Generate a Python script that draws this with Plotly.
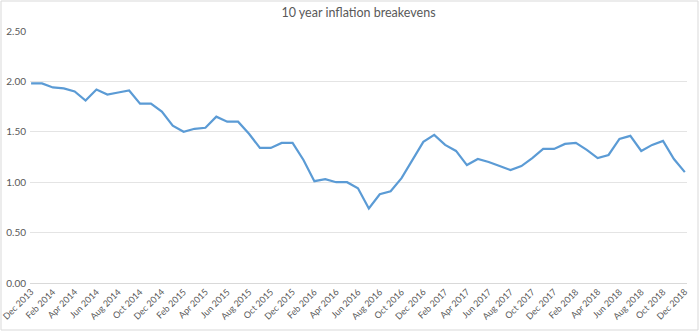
import plotly.graph_objects as go

# Monthly 10-year breakeven inflation, Dec 2013 - Dec 2018
months = [
    "Dec 2013", "Jan 2014", "Feb 2014", "Mar 2014", "Apr 2014", "May 2014", "Jun 2014",
    "Jul 2014", "Aug 2014", "Sep 2014", "Oct 2014", "Nov 2014", "Dec 2014",
    "Jan 2015", "Feb 2015", "Mar 2015", "Apr 2015", "May 2015", "Jun 2015",
    "Jul 2015", "Aug 2015", "Sep 2015", "Oct 2015", "Nov 2015", "Dec 2015",
    "Jan 2016", "Feb 2016", "Mar 2016", "Apr 2016", "May 2016", "Jun 2016",
    "Jul 2016", "Aug 2016", "Sep 2016", "Oct 2016", "Nov 2016", "Dec 2016",
    "Jan 2017", "Feb 2017", "Mar 2017", "Apr 2017", "May 2017", "Jun 2017",
    "Jul 2017", "Aug 2017", "Sep 2017", "Oct 2017", "Nov 2017", "Dec 2017",
    "Jan 2018", "Feb 2018", "Mar 2018", "Apr 2018", "May 2018", "Jun 2018",
    "Jul 2018", "Aug 2018", "Sep 2018", "Oct 2018", "Nov 2018", "Dec 2018",
]
breakevens = [
    1.98, 1.98, 1.94, 1.93, 1.90, 1.81, 1.92, 1.87, 1.89, 1.91, 1.78, 1.78, 1.70,
    1.56, 1.50, 1.53, 1.54, 1.65, 1.60, 1.60, 1.48, 1.34, 1.34, 1.39, 1.39,
    1.22, 1.01, 1.03, 1.00, 1.00, 0.94, 0.74, 0.88, 0.91, 1.04, 1.22, 1.40,
    1.47, 1.37, 1.31, 1.17, 1.23, 1.20, 1.16, 1.12, 1.16, 1.24, 1.33, 1.33,
    1.38, 1.39, 1.32, 1.24, 1.27, 1.43, 1.46, 1.31, 1.37, 1.41, 1.23, 1.10,
]
y_ticks = [0.0, 0.5, 1.0, 1.5, 2.0, 2.5]
title = "10 year inflation breakevens"

x_idx = list(range(len(months)))
label_idx = x_idx[::2]
label_text = [months[i] for i in label_idx]

W, H = 700, 331
L, R, T, B = 30, 13, 31, 48

fig = go.Figure()
fig.add_trace(go.Scatter(
    x=x_idx, y=breakevens, mode="lines",
    line=dict(color="#5B9BD5", width=2.2),
    hoverinfo="skip", showlegend=False,
))

font_family = "Lato, 'Open Sans', sans-serif"
fig.update_layout(
    width=W, height=H,
    margin=dict(l=L, r=R, t=T, b=B),
    paper_bgcolor="white", plot_bgcolor="white",
    font=dict(family=font_family, size=10, color="#595959"),
    title=dict(text=title, x=0.5, xref="paper", xanchor="center",
               y=1 - 13 / H, yref="container", yanchor="middle",
               font=dict(size=12.5, color="#595959", family=font_family)),
    xaxis=dict(
        range=[-0.1, len(months) - 1 + 0.2], automargin=False,
        tickmode="array", tickvals=label_idx, ticktext=label_text,
        tickangle=-45, showgrid=False, zeroline=False, showline=False,
        ticks="", ticklabeloverflow="allow", ticklabelstandoff=1,
        tickfont=dict(size=9, color="#595959"),
    ),
    yaxis=dict(
        range=[0, 2.5], automargin=False, tickmode="array", tickvals=y_ticks,
        ticktext=[f"{v:.2f}" for v in y_ticks],
        showgrid=True, gridcolor="#E4E4E4", gridwidth=1,
        zeroline=True, zerolinecolor="#D9D9D9", zerolinewidth=1,
        showline=False, ticks="", ticklabelstandoff=3,
        tickfont=dict(size=10, color="#595959"),
    ),
)

# light frame around the whole chart area
pw, ph = W - L - R, H - T - B
fig.add_shape(
    type="rect", xref="paper", yref="paper",
    x0=(1 - L) / pw, x1=(W - 2 - L) / pw,
    y0=-(B - 1) / ph, y1=1 + (T - 1) / ph,
    line=dict(color="#D9D9D9", width=1), fillcolor="rgba(0,0,0,0)",
    layer="below",
)

fig.write_html("out.html")
